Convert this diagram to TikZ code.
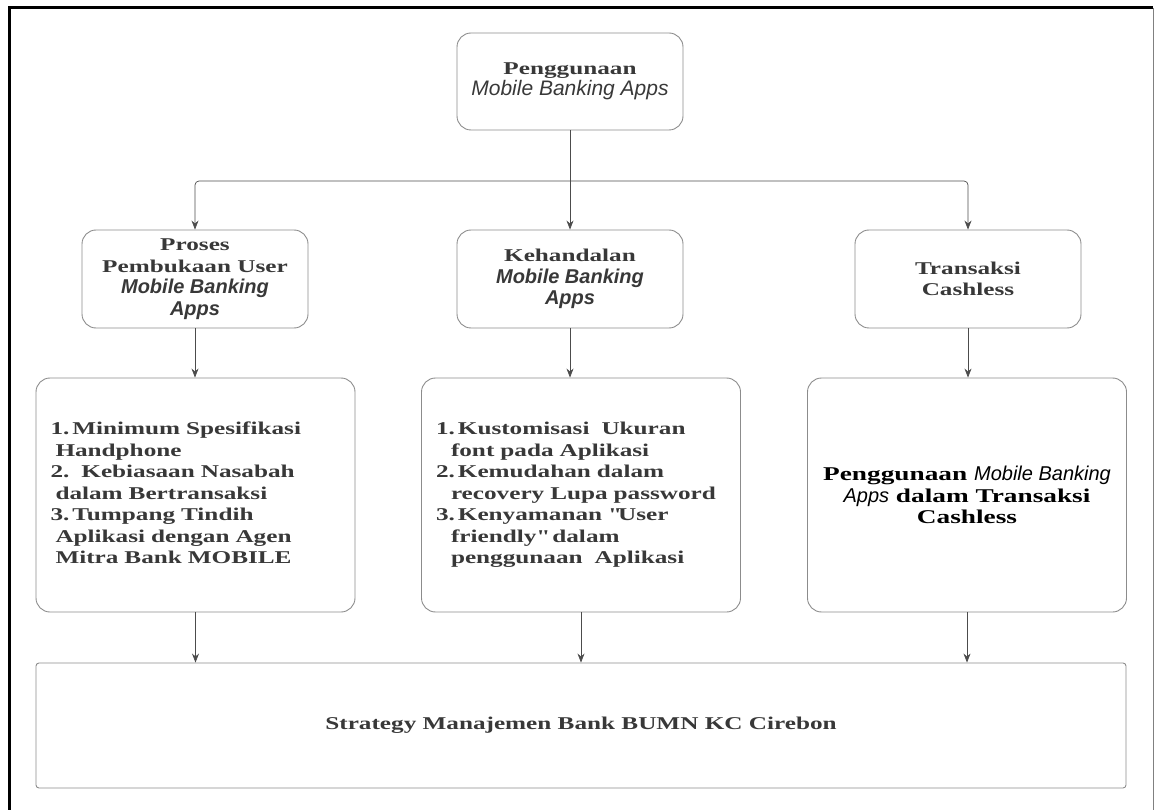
\documentclass[tikz,border=0pt]{standalone}
\usepackage{fontspec}
\setmainfont{Liberation Serif}[FakeStretch=1.4]
\setsansfont{Liberation Sans}
\usetikzlibrary{arrows.meta}

\newcommand{\mbafont}{\sffamily\itshape}

\begin{document}
\begin{tikzpicture}[x=1pt,y=-1pt,
    kotak/.style={draw=black!45, rounded corners=14pt, line width=0.9pt, align=center, inner sep=0pt},
    panah/.style={-{Stealth[length=9pt,width=7pt]}, draw=black!70, line width=0.7pt},
    huruf/.style={font=\bfseries\fontsize{18}{21.5}\selectfont, text=black!78}]
    \useasboundingbox (0,0) rectangle (1154,810);

    % Bingkai
    \draw[line width=3pt] (9,810) -- (9,8) -- (1153,8);
    \draw[black!50, line width=1pt] (1153,8) -- (1153,810);

    % Kotak atas
    \node[kotak, huruf, minimum width=226pt, minimum height=97pt] (guna) at (570,81.5)
        {Penggunaan\\ {\mdseries\mbafont\fontsize{21}{20}\selectfont Mobile Banking Apps}};

    % Kotak tingkat dua
    \node[kotak, huruf, minimum width=226pt, minimum height=98pt] (proses) at (195,279)
        {Proses\\ Pembukaan User\\ {\mbafont\fontsize{20}{21}\selectfont Mobile Banking}\\ {\mbafont\fontsize{20}{21}\selectfont Apps}};
    \node[kotak, huruf, minimum width=226pt, minimum height=98pt] (andal) at (570,279)
        {Kehandalan\\ {\mbafont\fontsize{20}{21}\selectfont Mobile Banking}\\ {\mbafont\fontsize{20}{21}\selectfont Apps}};
    \node[kotak, huruf, minimum width=226pt, minimum height=98pt] (transaksi) at (968,279)
        {Transaksi\\ Cashless};

    % Kotak isi
    \node[kotak, huruf, align=left, text width=290pt, minimum width=319pt, minimum height=234pt] (syarat) at (195.5,495)
        {\begin{tabular}{@{}l@{}}
         1.\,Minimum Spesifikasi\\
         \hspace*{5pt}Handphone\\
         2.\ \ Kebiasaan Nasabah\\
         \hspace*{5pt}dalam Bertransaksi\\
         3.\,Tumpang Tindih\\
         \hspace*{5pt}Aplikasi dengan Agen\\
         \hspace*{5pt}Mitra Bank MOBILE
         \end{tabular}};
    \node[kotak, huruf, align=left, text width=290pt, minimum width=319pt, minimum height=234pt] (fitur) at (581,495)
        {\begin{tabular}{@{}l@{}}
         1.\,Kustomisasi\ \ Ukuran\\
         \hspace*{15pt}font pada Aplikasi\\
         2.\,Kemudahan dalam\\
         \hspace*{15pt}recovery Lupa password\\
         3.\,Kenyamanan \textquotedbl User\\
         \hspace*{15pt}friendly\textquotedbl\ dalam\\
         \hspace*{15pt}penggunaan\ \ Aplikasi
         \end{tabular}};
    \node[kotak, huruf, text=black, font=\bfseries\fontsize{19.5}{21.5}\selectfont, minimum width=319pt, minimum height=234pt] (cashless) at (967,495)
        {Penggunaan {\mdseries\mbafont\fontsize{20}{21.5}\selectfont Mobile Banking}\\
         {\mdseries\mbafont\fontsize{20}{21.5}\selectfont Apps} dalam Transaksi\\
         Cashless};

    % Kotak bawah
    \node[kotak, huruf, rounded corners=3pt, minimum width=1090pt, minimum height=125pt] (strategi) at (581,725.5)
        {Strategy Manajemen Bank BUMN KC Cirebon};

    % Panah
    \coordinate (cabang) at (570,181);
    \draw[black!70, line width=0.7pt] (guna.south) -- (cabang);
    \draw[panah, rounded corners=4pt] (cabang) -| (proses.north);
    \draw[panah] (cabang) -- (andal.north);
    \draw[panah, rounded corners=4pt] (cabang) -| (transaksi.north);
    \foreach \atas/\bawah in {proses/syarat, andal/fitur, transaksi/cashless}
        \draw[panah] (\atas.south) -- (\bawah.north -| \atas.south);
    \foreach \isi in {syarat, fitur, cashless}
        \draw[panah] (\isi.south) -- (\isi.south |- strategi.north);
\end{tikzpicture}
\end{document}
